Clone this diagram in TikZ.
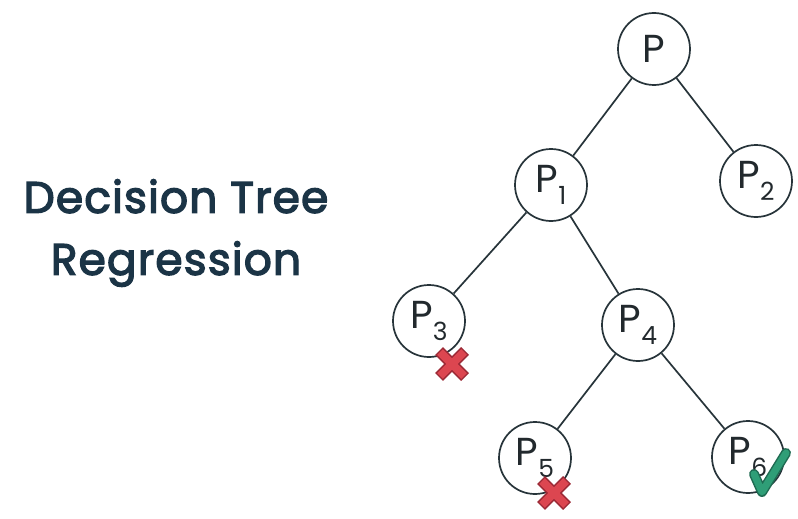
\documentclass[tikz,border=0pt]{standalone}
\usepackage{fontspec}
\setmainfont{Poppins}
\newfontfamily\titlefont{Poppins}[FakeBold=3,LetterSpace=2.5]
\definecolor{ink}{HTML}{1B3446}
\definecolor{edge}{HTML}{27343A}
\definecolor{label}{HTML}{22292D}
\definecolor{crossred}{HTML}{DC4650}
\definecolor{crossdark}{HTML}{9C2A36}
\definecolor{tickgreen}{HTML}{2F9E77}
\definecolor{tickdark}{HTML}{1F6B52}
\newcommand{\pidx}[1]{P\raisebox{-0.32em}{\fontsize{25}{25}\selectfont #1}}
\begin{document}
\begin{tikzpicture}[x=1pt,y=-1pt,
  pnode/.style={circle,draw=edge,line width=1.7pt,fill=white,minimum size=72pt,inner sep=0pt,
    text=label,font=\fontsize{39}{39}\selectfont},
  link/.style={draw=edge,line width=1.7pt},
]
\useasboundingbox (0,0) rectangle (798,519);
\fill[white] (0,0) rectangle (798,519);

% title
\node[text=ink,font=\titlefont\fontsize{44}{62}\selectfont,align=center] (title) at (176,233)
  {Decision Tree\\Regression};

% tree nodes
\node[pnode] (p)  at (654,49)  {P};
\node[pnode] (p1) at (551,185) {\pidx{1}};
\node[pnode] (p2) at (756,181) {\pidx{2}};
\node[pnode] (p3) at (429,321) {\pidx{3}};
\node[pnode] (p4) at (638,325) {\pidx{4}};
\node[pnode] (p5) at (535,458) {\pidx{5}};
\node[pnode] (p6) at (748,457) {\pidx{6}};

% branches
\draw[link] (p) -- (p1);
\draw[link] (p) -- (p2);
\draw[link] (p1) -- (p3);
\draw[link] (p1) -- (p4);
\draw[link] (p4) -- (p5);
\draw[link] (p4) -- (p6);

% rejected leaves
\foreach \cx/\cy in {452/364,554/493}{
  \begin{scope}[shift={(\cx,\cy)}]
    \draw[crossdark,line width=11pt] (-13,-13) -- (13,13) (13,-13) -- (-13,13);
    \draw[crossred,line width=8pt] (-12,-12) -- (12,12) (12,-12) -- (-12,12);
  \end{scope}
}

% accepted leaf
\draw[tickdark,line width=10pt,line join=round,line cap=round] (754,474) -- (762,492) -- (786,453);
\draw[tickgreen,line width=7pt,line join=round,line cap=round] (754,474) -- (762,492) -- (786,453);
\end{tikzpicture}
\end{document}
